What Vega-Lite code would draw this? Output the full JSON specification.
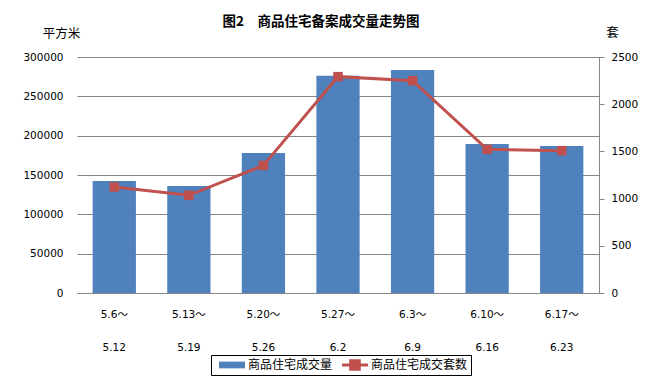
{
  "$schema": "https://vega.github.io/schema/vega-lite/v6.json",
  "width": 522,
  "height": 236,
  "autosize": {"type": "none"},
  "padding": {"left": 77, "top": 57, "right": 51, "bottom": 91},
  "background": "white",
  "title": {
    "text": "图2　商品住宅备案成交量走势图",
    "font": "Noto Sans CJK SC",
    "fontSize": 13.5,
    "fontWeight": "bold",
    "color": "black",
    "anchor": "middle",
    "frame": "group",
    "dx": -17,
    "dy": 2,
    "offset": 0
  },
  "data": {
    "values": [
      {"week": "5.6～|5.12", "area": 142400, "units": 1123},
      {"week": "5.13～|5.19", "area": 136000, "units": 1035},
      {"week": "5.20～|5.26", "area": 178000, "units": 1352},
      {"week": "5.27～|6.2", "area": 276200, "units": 2292},
      {"week": "6.3～|6.9", "area": 283500, "units": 2249},
      {"week": "6.10～|6.16", "area": 189400, "units": 1522},
      {"week": "6.17～|6.23", "area": 186900, "units": 1508}
    ]
  },
  "encoding": {
    "x": {
      "field": "week",
      "type": "nominal",
      "sort": null,
      "scale": {"paddingInner": 0.42, "paddingOuter": 0.21},
      "axis": {
        "title": null,
        "labelAngle": 0,
        "labelExpr": "split(datum.label, '|')",
        "labelLineHeight": 33,
        "labelPadding": 16,
        "labelFont": "DejaVu Sans, Noto Sans CJK SC",
        "labelFontSize": 10.5,
        "labelColor": "black",
        "ticks": false,
        "domainColor": "#868686",
        "domainWidth": 1,
        "grid": false
      }
    }
  },
  "layer": [
    {
      "mark": {"type": "bar", "color": "#4F81BD"},
      "encoding": {
        "y": {
          "field": "area",
          "type": "quantitative",
          "scale": {"domain": [0, 300000], "nice": false},
          "axis": {
            "orient": "left",
            "values": [0, 50000, 100000, 150000, 200000, 250000, 300000],
            "format": "d",
            "title": "平方米",
            "titleAngle": 0,
            "titleX": -16,
            "titleY": -24,
            "titleAlign": "center",
            "titleBaseline": "middle",
            "titleFont": "Noto Sans CJK SC",
            "titleFontSize": 12.5,
            "titleFontWeight": "normal",
            "titleColor": "black",
            "labelFont": "DejaVu Sans",
            "labelFontSize": 10.5,
            "labelColor": "black",
            "labelPadding": 14,
            "ticks": false,
            "domain": false,
            "grid": true,
            "gridColor": "#868686",
            "gridWidth": 1
          }
        },
        "color": {
          "datum": "商品住宅成交量",
          "scale": {
            "domain": ["商品住宅成交量", "商品住宅成交套数"],
            "range": ["#4F81BD", "#C0504D"]
          },
          "legend": {
            "title": null,
            "orient": "none",
            "direction": "horizontal",
            "legendX": 134,
            "legendY": 298,
            "strokeColor": "black",
            "padding": 3,
            "clipHeight": 14,
            "labelFont": "Noto Sans CJK SC",
            "labelFontSize": 12,
            "labelColor": "black",
            "labelOffset": 10,
            "symbolOffset": 12,
            "columnPadding": 4,
            "symbolSize": 676,
            "encode": {
              "symbols": {
                "update": {
                  "shape": {"signal": "datum.value === '商品住宅成交量' ? 'M-1,-0.26H1V0.26H-1Z' : 'M-1,0H1M-0.33,-0.33H0.33V0.33H-0.33Z'"},
                  "fill": {"signal": "datum.value === '商品住宅成交量' ? '#4F81BD' : '#C0504D'"},
                  "stroke": {"signal": "datum.value === '商品住宅成交量' ? '#4F81BD' : '#C0504D'"},
                  "strokeWidth": {"signal": "datum.value === '商品住宅成交量' ? 0 : 3"},
                  "opacity": {"value": 1}
                }
              }
            }
          }
        }
      }
    },
    {
      "mark": {
        "type": "line",
        "strokeWidth": 3,
        "point": {"shape": "square", "size": 90, "filled": true, "opacity": 1}
      },
      "encoding": {
        "y": {
          "field": "units",
          "type": "quantitative",
          "scale": {"domain": [0, 2500], "nice": false},
          "axis": {
            "orient": "right",
            "values": [0, 500, 1000, 1500, 2000, 2500],
            "format": "d",
            "title": "套",
            "titleAngle": 0,
            "titleX": 13,
            "titleY": -25,
            "titleAlign": "center",
            "titleBaseline": "middle",
            "titleFont": "Noto Sans CJK SC",
            "titleFontSize": 12.5,
            "titleFontWeight": "normal",
            "titleColor": "black",
            "labelFont": "DejaVu Sans",
            "labelFontSize": 10.5,
            "labelColor": "black",
            "labelPadding": 7,
            "tickSize": 5,
            "tickColor": "#868686",
            "domain": true,
            "domainColor": "#868686",
            "grid": false
          }
        },
        "color": {"datum": "商品住宅成交套数"}
      }
    }
  ],
  "resolve": {"scale": {"y": "independent"}},
  "config": {
    "view": {"stroke": null}
  }
}
